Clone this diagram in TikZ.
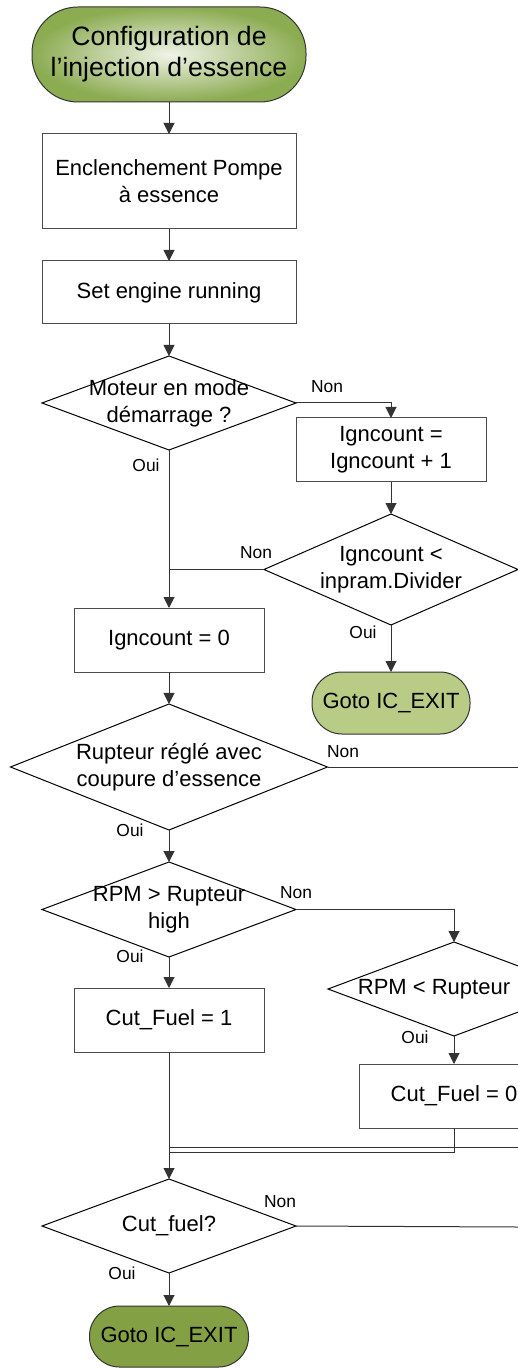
\documentclass[tikz,border=0pt]{standalone}
\usepackage{fontspec}
\setmainfont{Liberation Sans}
\usetikzlibrary{positioning, shapes.geometric, arrows.meta}

\definecolor{olivedark}{RGB}{131,160,69}
\definecolor{olivelight}{RGB}{184,204,134}
\definecolor{oliveedge}{RGB}{140,172,82}
\definecolor{olivecentre}{RGB}{240,243,232}

\begin{document}
\begin{tikzpicture}[
  x=0.5pt, y=-0.5pt,
  node distance=16pt,
  font=\fontsize{11}{13.5}\selectfont,
  box/.style={draw=black!70, line width=0.5pt, align=center, minimum width=95pt, minimum height=32pt, outer sep=0pt},
  decision/.style={diamond, draw, line width=0.5pt, inner sep=0pt, outer sep=0pt},
  dtext/.style={align=center, inner sep=0pt},
  term/.style={draw=black!80, line width=0.5pt, align=center, outer sep=0pt},
  lbl/.style={font=\fontsize{8.7}{10}\selectfont, inner sep=0pt},
  arrow/.style={-{Triangle[length=5.5pt, width=5.5pt]}, line width=0.5pt, draw=black!80},
  line/.style={line width=0.5pt, draw=black!80}
]
\useasboundingbox (0,0) rectangle (518,1368);
\clip (0,0) rectangle (518,1368);

% main column
\node[term, rounded corners=23pt, minimum width=137pt, minimum height=47.5pt, inner color=olivecentre, outer color=oliveedge, font=\fontsize{13.3}{15.5}\selectfont] (config) at (169,54.5) {Configuration de\\l’injection d’essence};
\node[box, minimum width=127pt, minimum height=47.5pt, below=of config] (pompe) {Enclenchement Pompe\\à essence};
\node[box, minimum width=127pt, minimum height=31.5pt, below=of pompe] (running) {Set engine running};
\node[decision, minimum width=127pt, minimum height=47pt, below=of running] (demarrage) {};
\node[dtext] (demarragetxt) at (demarrage) {Moteur en mode\\démarrage ?};

% compteur
\node[box] (igninc) at (391,450) {Igncount =\\Igncount + 1};
\node[decision, minimum width=127pt, minimum height=55.5pt, below=of igninc] (ignlimit) {};
\node[dtext] (ignlimittxt) at (ignlimit) {Igncount <\\inpram.Divider};
\node[term, rounded corners=15pt, fill=olivelight, minimum width=79pt, minimum height=31pt, below=23.5pt of ignlimit] (exitA) {Goto IC\_EXIT};
\node[box] (ignzero) at (169,640) {Igncount = 0};

% rupteur
\node[decision, minimum width=158.5pt, minimum height=63pt, below=of ignzero] (rupteur) {};
\node[dtext] (rupteurtxt) at (rupteur) {Rupteur réglé avec\\coupure d’essence};
\node[decision, minimum width=127pt, minimum height=47.5pt, below=of rupteur] (rpmhigh) {};
\node[dtext] (rpmhightxt) at (rpmhigh) {RPM > Rupteur\\high};
\node[box, below=15.5pt of rpmhigh] (cutfuelA) {Cut\_Fuel = 1};
\node[decision, minimum width=126pt, minimum height=47pt] (rpmlow) at (454,989) {};
\node[dtext, xshift=-10pt] (rpmlowtxt) at (rpmlow) {RPM < Rupteur};
\node[box, below=14pt of rpmlow] (cutfuelB) {Cut\_Fuel = 0};

% fin
\node[decision, minimum width=127pt, minimum height=47pt] (cutcheck) at (169,1226) {};
\node[dtext] (cutchecktxt) at (cutcheck) {Cut\_fuel?};
\node[term, rounded corners=15pt, fill=olivedark, minimum width=79.5pt, minimum height=30.5pt, below=16.5pt of cutcheck] (exitB) {Goto IC\_EXIT};

\coordinate (rupteurout) at (518,767);
\coordinate (rupteurback) at (518,1147);
\coordinate (mergeA) at (169,1147);
\coordinate (mergeB) at (169,1152);
\coordinate (cutout) at (518,1227);

\draw[arrow] (config) -- (pompe);
\draw[arrow] (pompe) -- (running);
\draw[arrow] (running) -- (demarrage);
\draw[arrow] (demarrage.east) -| (igninc.north);
\draw[arrow] (demarrage.south) -- (ignzero.north);
\draw[arrow] (igninc) -- (ignlimit);
\draw[line] (ignlimit.west) -- (ignlimit.west -| ignzero.north);
\draw[arrow] (ignlimit.south) -- (exitA.north);
\draw[arrow] (ignzero) -- (rupteur);
\draw[line] (rupteur.east) -- (rupteurout);
\draw[line] (rupteurback) -- (mergeA);
\draw[arrow] (rupteur) -- (rpmhigh);
\draw[arrow] (rpmhigh.east) -| (rpmlow.north);
\draw[arrow] (rpmhigh) -- (cutfuelA);
\draw[arrow] (rpmlow.south) -- (cutfuelB.north);
\draw[line] (cutfuelB.south) |- (mergeB);
\draw[arrow] (cutfuelA) -- (cutcheck);
\draw[line] (cutcheck.east) -- (cutout);
\draw[arrow] (cutcheck) -- (exitB);

% Oui / Non
\node[lbl] (nonA) at (327,387) {Non};
\node[lbl] (ouiA) at (146,465) {Oui};
\node[lbl] (nonB) at (256,553) {Non};
\node[lbl] (ouiB) at (363,632) {Oui};
\node[lbl] (nonC) at (343,752) {Non};
\node[lbl] (ouiC) at (130,830) {Oui};
\node[lbl] (nonD) at (296,893) {Non};
\node[lbl] (ouiD) at (130,956) {Oui};
\node[lbl] (ouiE) at (415,1037) {Oui};
\node[lbl] (nonF) at (280,1202) {Non};
\node[lbl] (ouiF) at (122,1273) {Oui};
\end{tikzpicture}
\end{document}
